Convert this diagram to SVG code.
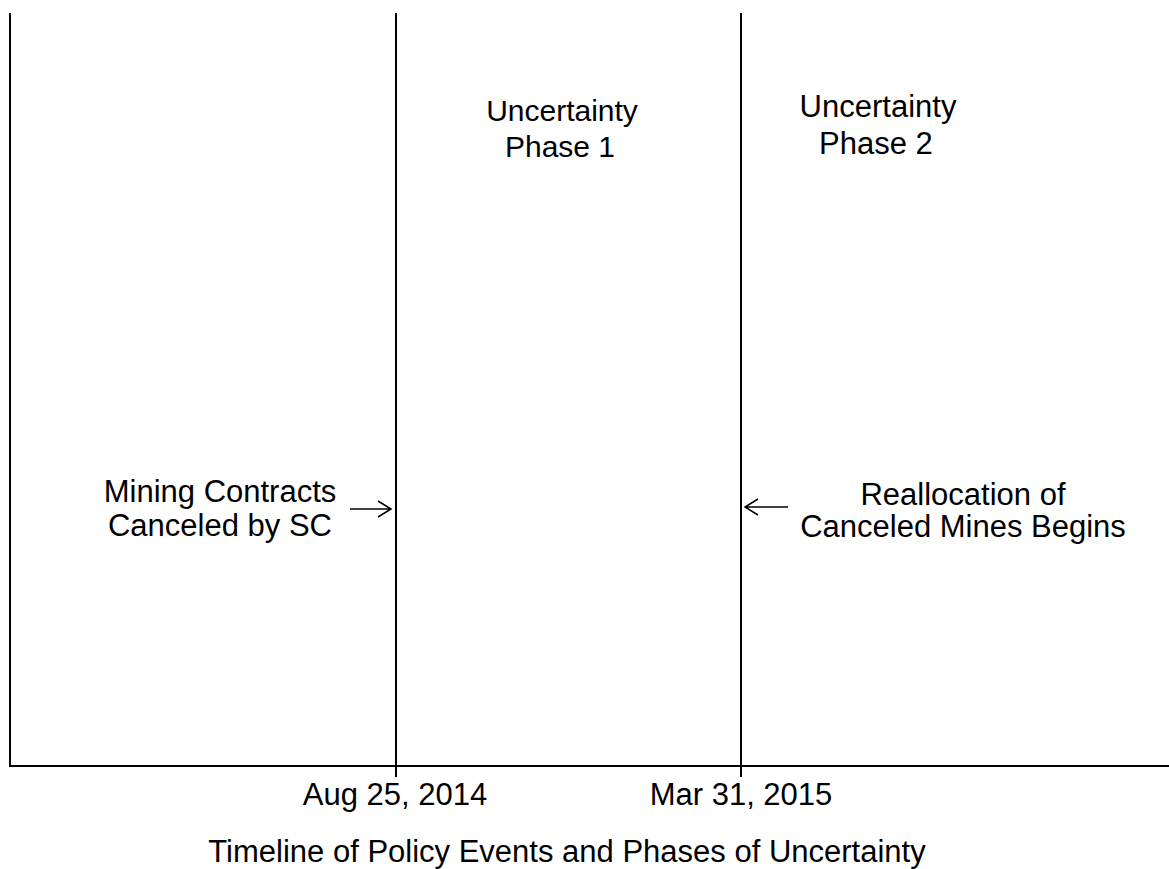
<svg xmlns="http://www.w3.org/2000/svg" width="1169" height="869" viewBox="0 0 1169 869">
<style>
.ln{stroke:#000;stroke-width:2;fill:none}
.ar{stroke:#000;stroke-width:1.5;fill:none}
text{font-family:"Liberation Sans",Arial,sans-serif;fill:#000;text-anchor:middle}
.ph{font-size:30px}
.ph2{font-size:31px}
.ev{font-size:31px}
.tk{font-size:31px}
</style>
<rect width="1169" height="869" fill="#fff"/>
<g id="axes">
<line class="ln" x1="10" y1="13" x2="10" y2="766"/>
<line class="ln" x1="9" y1="766" x2="1169" y2="766"/>
</g>
<g id="connectors">
<line class="ln" x1="396" y1="13" x2="396" y2="777"/>
<line class="ln" x1="741" y1="13" x2="741" y2="777"/>
<path class="ar" d="M350 509 H391 M378 501 L391 509 L378 517"/>
<path class="ar" d="M788 507 H745 M758 499 L745 507 L758 515"/>
</g>
<g id="phase1"><text class="ph" x="562" y="121">Uncertainty</text><text class="ph" x="560" y="157">Phase 1</text></g>
<g id="phase2"><text class="ph2" x="878" y="117">Uncertainty</text><text class="ph2" x="876" y="154">Phase 2</text></g>
<g id="event1"><text class="ev" x="220" y="502">Mining Contracts</text><text class="ev" x="220" y="536">Canceled by SC</text></g>
<g id="event2"><text class="ev" x="963" y="505">Reallocation of</text><text class="ev" x="963" y="537">Canceled Mines Begins</text></g>
<g id="ticks"><text class="tk" x="395" y="805">Aug 25, 2014</text><text class="tk" x="741" y="805">Mar 31, 2015</text></g>
<g id="title"><text class="tk" x="567" y="862">Timeline of Policy Events and Phases of Uncertainty</text></g>
</svg>
